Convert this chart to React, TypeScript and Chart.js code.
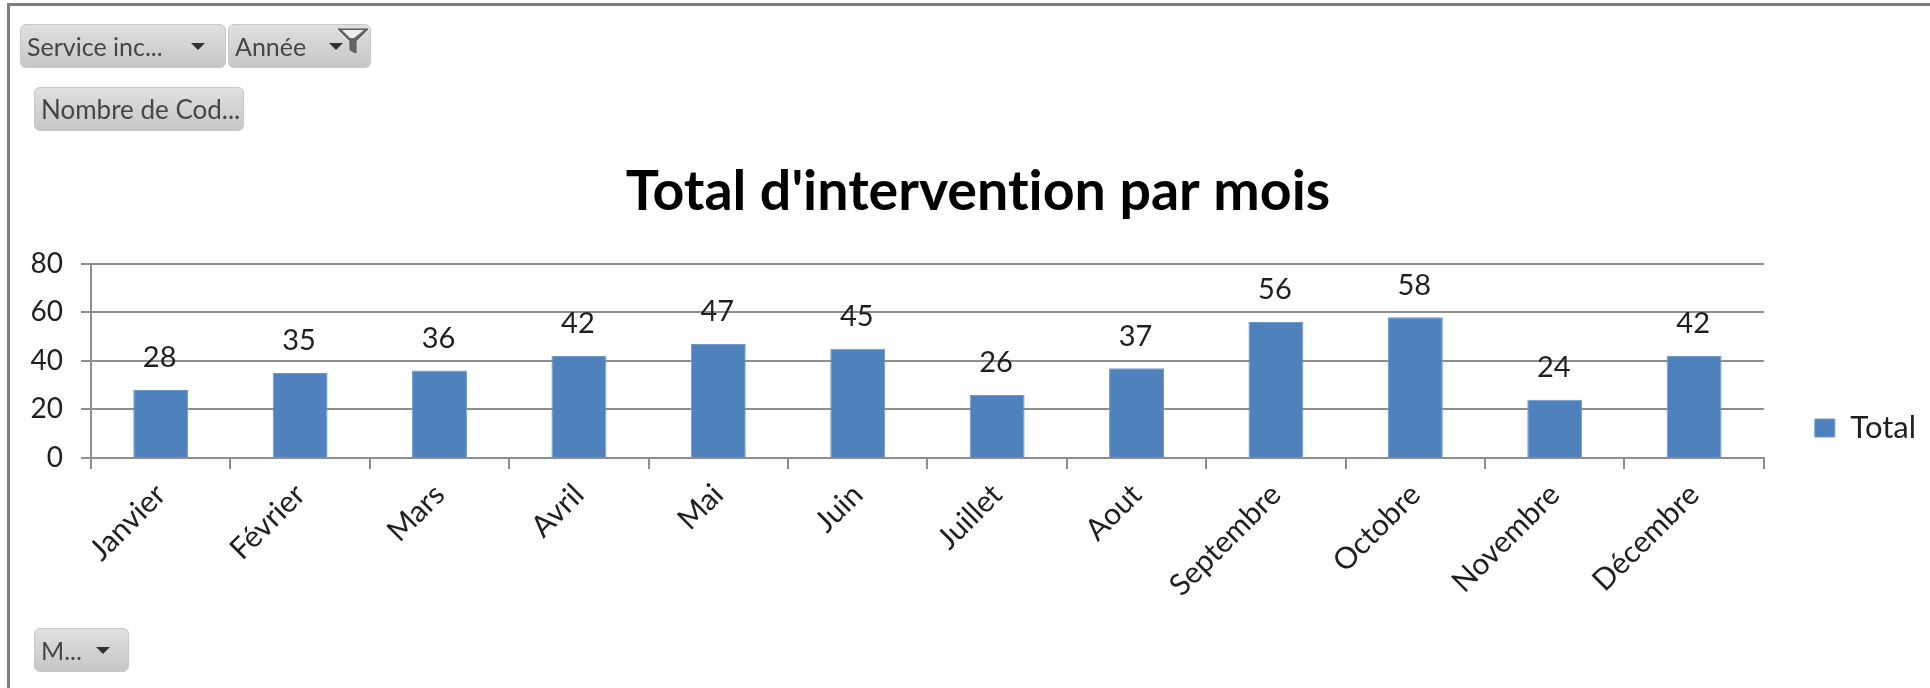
import React, { useEffect, useRef } from "react";
import { Chart, registerables } from "chart.js";

Chart.register(...registerables);

const categories = ["Janvier", "Février", "Mars", "Avril", "Mai", "Juin", "Juillet", "Aout", "Septembre", "Octobre", "Novembre", "Décembre"];
const totals = [28, 35, 36, 42, 47, 45, 26, 37, 56, 58, 24, 42];
const seriesName = "Total";
const chartTitle = "Total d'intervention par mois";
const FONT = "Lato, Carlito, sans-serif";
const TEXT = "#1f1f1f";
const GRID = "#8e8e8e";

const helperPlugin = {
  id: "helper",
  beforeDraw(chart: any) {
    chart.ctx.letterSpacing = "0.01px";
  },
  afterLayout(chart: any) {
    const l = chart.legend;
    if (l) {
      const left = chart.chartArea.right + 41;
      l.left = left;
      l.right = left + l.width;
      l.top = 408;
      l.bottom = 448;
    }
    const t = chart.titleBlock;
    if (t) {
      t.left += 23;
      t.right += 23;
    }
  },
  afterDatasetsDraw(chart: any) {
    const ctx = chart.ctx;
    const meta = chart.getDatasetMeta(0);
    ctx.save();
    ctx.font = `29px ${FONT}`;
    ctx.fillStyle = TEXT;
    ctx.textAlign = "center";
    ctx.textBaseline = "middle";
    meta.data.forEach((bar: any, i: number) => {
      ctx.fillText(String(chart.data.datasets[0].data[i]), bar.x - 1, bar.y - 32);
    });
    ctx.restore();
  },
};

function Button({ left, top, width, label, arrow, funnel, size = 25 }: any) {
  return (
    <div
      style={{
        position: "absolute",
        left,
        top,
        width,
        height: 44,
        boxSizing: "border-box",
        borderRadius: 6,
        border: "1px solid #c8c8c8",
        background: "linear-gradient(#e0e0e0, #c6c6c6)",
        color: "#45454a",
        font: `${size}px ${FONT}`,
        lineHeight: "42px",
        paddingLeft: 6,
        whiteSpace: "nowrap",
        overflow: "hidden",
        filter: "blur(0.5px)",
      }}
    >
      {label}
      {arrow !== undefined && (
        <div
          style={{
            position: "absolute",
            left: arrow,
            top: 18,
            width: 0,
            height: 0,
            borderLeft: "7px solid transparent",
            borderRight: "7px solid transparent",
            borderTop: "7px solid #333",
          }}
        />
      )}
      {funnel && (
        <svg style={{ position: "absolute", left: 108, top: 3 }} width="32" height="26" viewBox="0 0 32 26">
          <path d="M1 1 L31 1 L19 13 L19 25 L13 22 L13 13 Z" fill="#666" stroke="#555" strokeWidth="1" />
          <path d="M5 2 L27 2 L17 10 L13 10 Z" fill="#eee" />
        </svg>
      )}
    </div>
  );
}

export default function App() {
  const ref = useRef<HTMLCanvasElement>(null);
  useEffect(() => {
    const chart = new Chart(ref.current as HTMLCanvasElement, {
      type: "bar",
      data: {
        labels: categories,
        datasets: [
          {
            label: seriesName,
            data: totals,
            backgroundColor: "#4f81bd",
            borderColor: "#6f99cb",
            borderWidth: 1,
            barPercentage: 0.394,
            categoryPercentage: 1,
          },
        ],
      },
      options: {
        animation: false,
        responsive: false,
        devicePixelRatio: 1,
        layout: { padding: { left: 25, top: 160, right: 45, bottom: 0 } },
        plugins: {
          title: {
            display: true,
            text: chartTitle,
            color: "#000",
            font: { family: FONT, size: 55.5, weight: "bold", lineHeight: 1.15 },
            padding: { top: 0, bottom: 40 },
          },
          legend: {
            display: true,
            position: "right",
            align: "center",
            labels: {
              boxWidth: 20,
              boxHeight: 18,
              padding: 10,
              color: TEXT,
              font: { family: FONT, size: 31 },
            },
          },
          tooltip: { enabled: false },
        },
        scales: {
          x: {
            grid: { drawOnChartArea: false, color: GRID, lineWidth: 2, tickLength: 11, offset: true },
            border: { color: GRID, width: 2 },
            ticks: {
              color: TEXT,
              font: { family: FONT, size: 30 },
              minRotation: 45,
              maxRotation: 45,
              autoSkip: false,
              padding: 8,
            },
            afterFit(s: any) {
              s.height = 230;
            },
          },
          y: {
            min: 0,
            max: 80,
            ticks: { stepSize: 20, color: TEXT, font: { family: FONT, size: 28 }, padding: 18 },
            grid: { color: GRID, lineWidth: 2, tickLength: 10 },
            border: { color: GRID, width: 2 },
            afterFit(s: any) {
              s.width = 66;
            },
          },
        },
      },
      plugins: [helperPlugin],
    } as any);
    return () => chart.destroy();
  }, []);
  return (
    <div style={{ position: "absolute", left: 0, top: 0, width: 1930, height: 688, overflow: "hidden", background: "#fff" }}>
      <canvas ref={ref} width={1930} height={688} style={{ position: "absolute", left: 0, top: 0, filter: "blur(0.5px)" }} />
      <div style={{ position: "absolute", left: 7, top: 3, right: 0, bottom: 0, borderLeft: "3px solid #7f7f7f", borderTop: "3px solid #7f7f7f" }} />
      <Button left={20} top={24} width={206} label="Service inc..." arrow={170} />
      <Button left={228} top={24} width={143} label="Année" arrow={100} funnel />
      <Button left={34} top={87} width={210} label="Nombre de Cod..." size={26} />
      <Button left={34} top={628} width={95} label="M..." arrow={61} />
    </div>
  );
}
